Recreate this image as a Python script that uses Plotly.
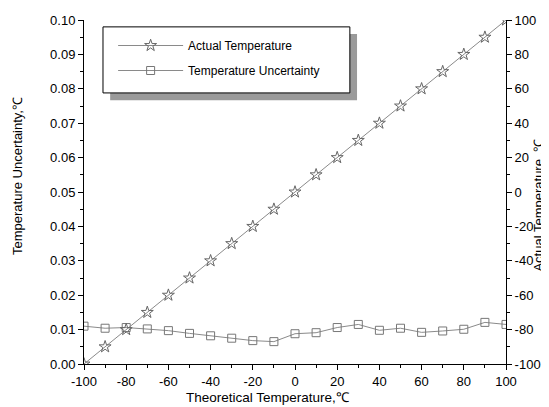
import plotly.graph_objects as go

theoretical = [-100, -90, -80, -70, -60, -50, -40, -30, -20, -10, 0, 10, 20, 30, 40, 50, 60, 70, 80, 90, 100]
actual = [-100, -90, -80, -70, -60, -50, -40, -30, -20, -10, 0, 10, 20, 30, 40, 50, 60, 70, 80, 90, 100]
uncertainty = [0.0110, 0.0104, 0.0106, 0.0102, 0.0097, 0.0089, 0.0082, 0.0075, 0.0068, 0.0065, 0.0088,
               0.0091, 0.0106, 0.0115, 0.0098, 0.0104, 0.0092, 0.0096, 0.0101, 0.0121, 0.0115]

temp_ticks = [-100, -80, -60, -40, -20, 0, 20, 40, 60, 80, 100]
temp_tick_labels = ["-100", "-80", "-60", "-40", "-20", "0", "20", "40", "60", "80", "100"]

x_title = "Theoretical Temperature,℃"
y_title = "Temperature Uncertainty,℃"
y2_title = "Actual Temperature ,℃"

grey = "#8a8a8a"
font = "Liberation Sans, Arial, sans-serif"

fig = go.Figure()
fig.add_trace(go.Scatter(
    x=theoretical, y=actual, name="Actual Temperature", yaxis="y2",
    mode="lines+markers", legendgroup="a",
    line=dict(color=grey, width=1),
    marker=dict(symbol="star-open", size=9, color="#666666", line=dict(width=1)),
))
fig.add_trace(go.Scatter(
    x=theoretical, y=uncertainty, name="Temperature Uncertainty",
    mode="lines+markers", legendgroup="b",
    line=dict(color=grey, width=1),
    marker=dict(symbol="square-open", size=8, color="#777777", line=dict(width=1)),
))

axis_common = dict(
    showline=True, linecolor="black", linewidth=1, mirror=False,
    ticks="outside", ticklen=5, tickcolor="black", tickwidth=1,
    showgrid=False, zeroline=False, automargin=False,
    tickfont=dict(family=font, size=13, color="black"),
)

fig.update_layout(
    width=541, height=399,
    margin=dict(l=76, r=43, t=12, b=43),
    paper_bgcolor="white", plot_bgcolor="white",
    font=dict(family=font, color="black"),
    showlegend=True,
    legend=dict(
        x=0.069, y=0.968, xanchor="left", yanchor="top",
        bgcolor="rgba(0,0,0,0)", borderwidth=0,
        font=dict(family=font, size=12, color="black"),
        itemwidth=65, tracegroupgap=6, traceorder="grouped",
    ),
    xaxis=dict(
        range=[-100, 100], tickmode="array", tickvals=temp_ticks, ticktext=temp_tick_labels,
        minor=dict(ticks="outside", ticklen=3, dtick=10, tickcolor="black"),
        **axis_common,
    ),
    yaxis=dict(
        range=[0, 0.1], dtick=0.01, tickformat=".2f",
        minor=dict(ticks="outside", ticklen=3, dtick=0.005, tickcolor="black"),
        **axis_common,
    ),
    yaxis2=dict(
        range=[-100, 100], tickmode="array", tickvals=temp_ticks, ticktext=temp_tick_labels,
        overlaying="y", side="right",
        minor=dict(ticks="outside", ticklen=3, dtick=10, tickcolor="black"),
        **axis_common,
    ),
    annotations=[
        dict(text=x_title, xref="paper", yref="paper", x=0.436, y=-0.097,
             xanchor="center", yanchor="middle", showarrow=False,
             font=dict(family=font, size=13.5, color="black")),
        dict(text=y_title, xref="paper", yref="paper", x=-0.156, y=0.547, textangle=-90,
             xanchor="center", yanchor="middle", showarrow=False,
             font=dict(family=font, size=13, color="black")),
        dict(text=y2_title, xref="paper", yref="paper", x=1.077, y=0.462, textangle=-90,
             xanchor="center", yanchor="middle", showarrow=False,
             font=dict(family=font, size=13, color="black")),
    ],
    shapes=[
        dict(type="rect", xref="paper", yref="paper", x0=0.062, x1=0.647, y0=0.767, y1=0.959,
             fillcolor="#9a9a9a", line=dict(width=0), layer="above"),
        dict(type="rect", xref="paper", yref="paper", x0=0.045, x1=0.630, y0=0.788, y1=0.980,
             fillcolor="white", line=dict(color="black", width=1), layer="above"),
    ],
)

fig.write_html("out.html")
